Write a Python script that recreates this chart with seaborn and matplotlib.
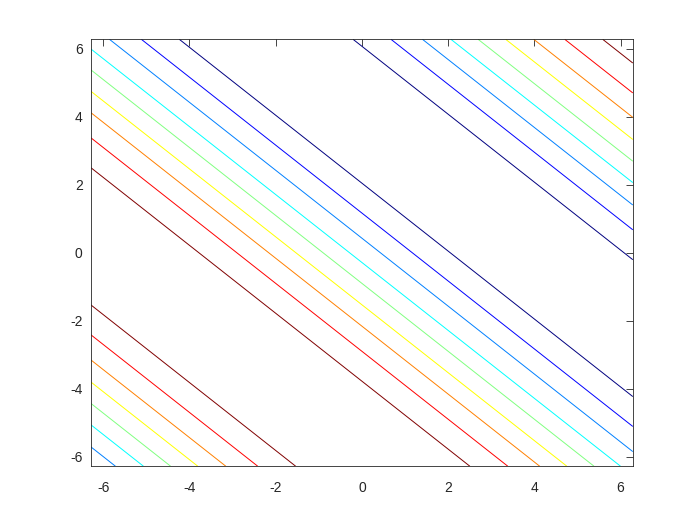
import numpy as np
import matplotlib
matplotlib.use("Agg")
import matplotlib.pyplot as plt
import seaborn as sns

# Contour line positions, read as s = x + y for each drawn line
level_sums = [-12.00, -11.35, -10.72, -10.09, -9.44, -8.70, -7.82,
              -3.78, -2.90, -2.16, -1.53, -0.90, -0.285, 0.43, 1.17, 2.05,
              6.08, 6.96, 7.69, 8.35, 8.98, 9.62, 10.27, 10.99, 11.87]
level_colors = ["#0080ff", "#00ffff", "#80ff80", "#ffff00", "#ff8000", "#ff0000", "#800000",
                "#800000", "#ff0000", "#ff8000", "#ffff00", "#80ff80", "#00ffff", "#0080ff", "#0000ff", "#000080",
                "#000080", "#0000ff", "#0080ff", "#00ffff", "#80ff80", "#ffff00", "#ff8000", "#ff0000", "#800000"]
tick_values = [-6, -4, -2, 0, 2, 4, 6]
lim = 2 * np.pi

sns.set_style("white")
plt.rcParams['font.family'] = ['Liberation Sans', 'DejaVu Sans']

fig = plt.figure(figsize=(7, 5.25), dpi=100)
ax = fig.add_axes([0.13, 0.112, 0.774, 0.813])

g = np.linspace(-lim, lim, 401)
X, Y = np.meshgrid(g, g)
Z = X + Y
ax.contour(X, Y, Z, levels=level_sums, colors=level_colors, linewidths=0.7)

ax.set_xlim(-lim, lim)
ax.set_ylim(-lim, lim)
ax.set_xticks(tick_values)
ax.set_yticks(tick_values)
ax.set_xticklabels([str(t) for t in tick_values])
ax.set_yticklabels([str(t) for t in tick_values])
ax.tick_params(direction='in', length=5, width=0.6, colors='#262626',
               labelsize=10, top=True, right=True, labeltop=False, labelright=False)
ax.tick_params(axis='x', pad=10.5)
ax.tick_params(axis='y', pad=6)
for sp in ax.spines.values():
    sp.set_visible(True)
    sp.set_color('#262626')
    sp.set_linewidth(0.6)

fig.savefig("out.png", dpi=100)
